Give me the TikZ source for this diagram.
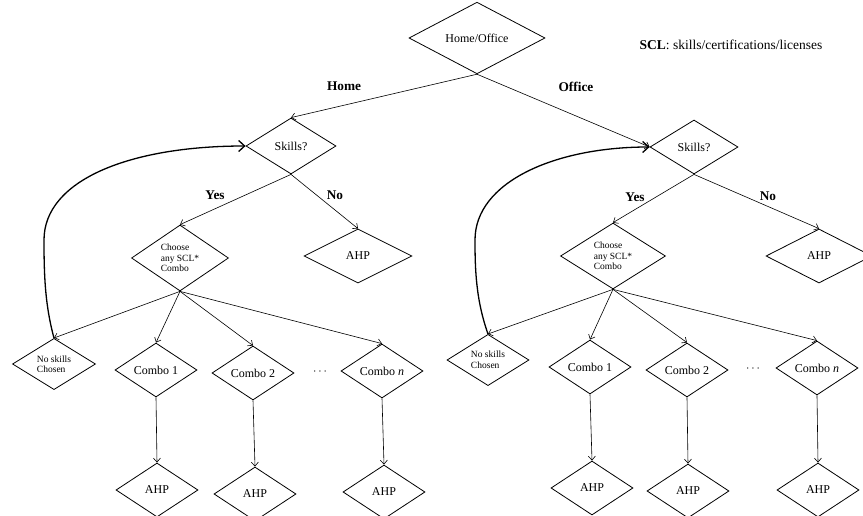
\documentclass[tikz,border=0pt]{standalone}
\usepackage{fontspec}
\setmainfont{Liberation Serif}
\usetikzlibrary{shapes.geometric,arrows.meta}

\begin{document}
\begin{tikzpicture}
[x=1pt,y=-1pt,
  decide/.style={shape=diamond,draw,line width=0.8pt,inner sep=0pt,align=center,%
    font=\fontsize{12}{14}\selectfont},
  smalldecide/.style={decide,align=left,font=\fontsize{9.5}{10.5}\selectfont},
  branchlabel/.style={font=\fontsize{13.3}{15}\selectfont\bfseries},
  arrowdecorate/.style={-{Straight Barb[length=4pt,width=7pt]},line width=0.6pt},
  loopdecorate/.style={-{Straight Barb[length=6pt,width=11pt]},line width=1.3pt}]
\useasboundingbox (0,0) rectangle (863,516);
%% top decision and legend
\node (ho) at (477,38) [decide,minimum width=136pt,minimum height=54pt] {Home/Office};
\node (legend) at (731,45) [font=\fontsize{13.5}{15}\selectfont]
  {\textbf{SCL}: skills/certifications/licenses};
%% decisions
\foreach \nodename/\x/\y/\w/\h/\txt in {skL/291/146/90/56/Skills?,
  ahL/358/256/108/54/AHP, c1L/156/370/82/54/Combo 1, c2L/253/373/82/54/Combo 2,
  cnL/382/371/82/54/Combo \textit{n}, a1L/157/490/82/54/AHP, a2L/255/494/82/54/AHP,
  anL/384/492/82/54/AHP, skR/694/147/88/54/Skills?, ahR/819/256/106/54/AHP,
  c1R/590/367/82/54/Combo 1, c2R/687/370/82/54/Combo 2, cnR/817/368/82/54/Combo \textit{n},
  a1R/592/488/82/54/AHP, a2R/688/491/82/54/AHP, anR/818/490/82/54/AHP}
{
  \node (\nodename) at (\x,\y) [decide,minimum width=\w pt,minimum height=\h pt] {\txt};
}
\foreach \nodename/\x/\y/\w/\h/\txt in {chL/180/258/97/57/{Choose\\any SCL*\\Combo},
  chR/613/256/105/54/{Choose\\any SCL*\\Combo}, nsL/54/364/83/50/{No skills\\Chosen},
  nsR/488/360/82/51/{No skills\\Chosen}}
{
  \node (\nodename) at (\x,\y) [smalldecide,minimum width=\w pt,minimum height=\h pt] {\txt};
}
\node (dotsL) at (320,372) [font=\fontsize{12}{14}\selectfont] {$\cdots$};
\node (dotsR) at (753,369) [font=\fontsize{12}{14}\selectfont] {$\cdots$};
%% branch labels
\foreach \labelname/\x/\y/\txt in {lhome/344/86/Home, loffice/576/87/Office,
  lyesL/215/195/Yes, lnoL/335/195/No, lyesR/635/197/Yes, lnoR/768/196/No}
{
  \node (\labelname) at (\x,\y) [branchlabel] {\txt};
}
%% edges
\path
\foreach \startnode/\endnode/\navigate in {ho/skL/north, ho/skR/west,
  skL/chL/north, skL/ahL/north, chL/nsL/north, chL/c1L/north, chL/c2L/north,
  chL/cnL/north, c1L/a1L/north, c2L/a2L/north, cnL/anL/north,
  skR/chR/north, skR/ahR/north, chR/nsR/north, chR/c1R/north, chR/c2R/north,
  chR/cnR/north, c1R/a1R/north, c2R/a2R/north, cnR/anR/north}
{
  (\startnode.south) edge[arrowdecorate] (\endnode.\navigate)
};
%% back to skills
\draw[loopdecorate] (nsL.north) .. controls (45,305) and (44,275) .. (44,240)
  .. controls (44,180) and (130,146) .. (skL.west);
\draw[loopdecorate] (nsR.north) .. controls (476,300) and (475,270) .. (475,240)
  .. controls (475,182) and (555,147) .. (skR.west);
\end{tikzpicture}
\end{document}
